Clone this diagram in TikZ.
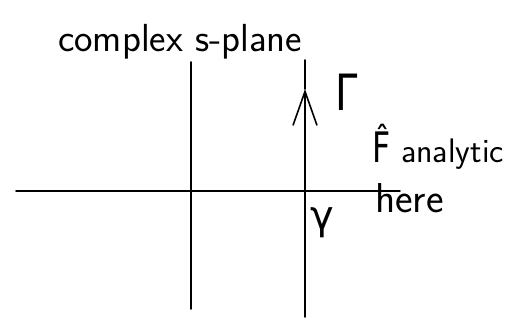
\documentclass[tikz,border=0pt]{standalone}
\usepackage{fontspec}
\newfontfamily\greekfont{DejaVu Sans}
\usetikzlibrary{arrows.meta, positioning}

\begin{document}
\begin{tikzpicture}[x=1pt, y=-1pt,
    every node/.style={font=\sffamily\fontsize{38}{42}\selectfont, inner sep=0pt},
    axis/.style={line width=1.6pt, line cap=round},
    greek/.style={font=\greekfont\fontsize{#1}{#1}\selectfont},
]
\useasboundingbox (0,0) rectangle (511,328);

% axes of the s-plane
\coordinate (reL) at (16,191);
\coordinate (reR) at (400,191);
\coordinate (imT) at (191,62);
\coordinate (imB) at (191,309);
\draw[axis] (reL) -- (reR);
\draw[axis] (imT) -- (imB);

% the contour Gamma
\coordinate (gamT) at (305,60);
\coordinate (gamA) at (305,89);
\coordinate (gamB) at (305,317);
\draw[axis, -{Straight Barb[length=34pt, width=24pt, line width=1.6pt]}] (gamB) -- (gamA);
\draw[axis] (gamA) -- (gamT);
\draw[line width=2.6pt] (305,176) -- (305,202);

\node[anchor=base west, scale=1.03] (title) at (58,52) {complex s-plane};
\node[greek=50, anchor=base west, xscale=0.8] (contour) at (335,111) {Γ};
\node[greek=42, anchor=base west, xscale=0.75] (fhat) at (372,163) {F̂};
\node[anchor=base west, font=\sffamily\fontsize{34}{38}\selectfont] (analytic) at (401,163) {analytic};
\node[anchor=base west, scale=1.1] (here) at (375,213) {here};
\node[greek=40, anchor=north west] (gam) at (310,207) {γ};
\end{tikzpicture}
\end{document}
